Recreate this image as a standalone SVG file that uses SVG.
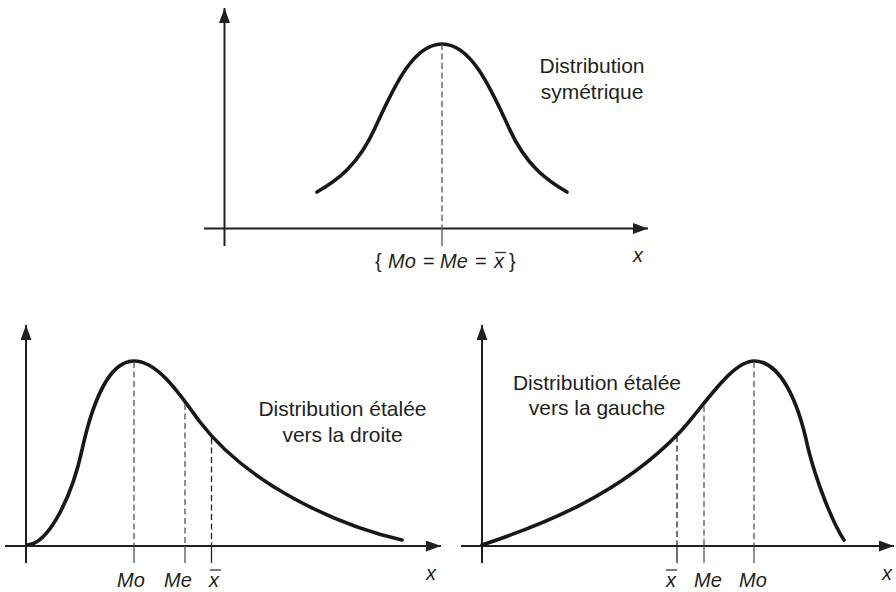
<svg xmlns="http://www.w3.org/2000/svg" width="896" height="592" viewBox="0 0 896 592">
<style>
.ax{stroke:#231f20;stroke-width:2;fill:none}
.cv{stroke:#1a1718;stroke-width:3.6;fill:none;stroke-linecap:round}
.dash{stroke:#555;stroke-width:1.3;stroke-dasharray:6 3.5;fill:none}
.tick{stroke:#555;stroke-width:1.3;fill:none}
.bar{stroke:#333;stroke-width:1.3}
.lbl{font-family:"Liberation Sans",Arial,sans-serif;font-size:21px;fill:#231f20;text-anchor:middle}
.m{font-family:"Liberation Sans",Arial,sans-serif;font-size:20px;fill:#231f20;font-style:italic}
.up{font-style:normal}
</style>
<defs>
<marker id="arr" viewBox="0 0 15 11" refX="15" refY="5.5" markerWidth="15" markerHeight="11" markerUnits="userSpaceOnUse" orient="auto">
<path d="M0,0 L15,5.5 L0,11 Z" fill="#231f20"/>
</marker>
</defs>

<g id="chart-symetrique">
<g id="axes-sym">
<line class="ax" x1="224.5" y1="246" x2="224.5" y2="8" marker-end="url(#arr)"/>
<line class="ax" x1="204" y1="228.5" x2="648" y2="228.5" marker-end="url(#arr)"/>
</g>
<path class="cv" d="M317,192 C337,180.5 358,165.5 375,128 C395,84 414,44 442,44 C470,44 489,84 509,128 C526,165.5 547,180.5 567,192"/>
<line class="dash" x1="442" y1="44" x2="442" y2="228"/>
<line class="tick" x1="442" y1="228" x2="442" y2="246"/>
<text class="lbl" x="592" y="73">Distribution</text>
<text class="lbl" x="592" y="99">symétrique</text>
<text class="m" y="268"><tspan class="up" x="375">{</tspan><tspan x="388">Mo</tspan><tspan class="up" x="423">=</tspan><tspan x="440">Me</tspan><tspan class="up" x="475">=</tspan><tspan x="494">x</tspan><tspan class="up" x="509">}</tspan></text>
<line class="bar" x1="495" y1="252.5" x2="506" y2="252.5"/>
<text class="m" x="633" y="262">x</text>
</g>

<g id="chart-droite">
<g id="axes-droite">
<line class="ax" x1="26" y1="563" x2="26" y2="325" marker-end="url(#arr)"/>
<line class="ax" x1="5" y1="546" x2="441" y2="546" marker-end="url(#arr)"/>
</g>
<path class="cv" d="M27,545 C49,544 72,496 82,450 C93,399.5 110,361 134,361 C159,361 182,398 200,422 C246,482 332,524 402,540"/>
<line class="dash" x1="134" y1="362" x2="134" y2="545"/>
<line class="dash" x1="185" y1="404" x2="185" y2="545"/>
<line class="dash" x1="211.5" y1="438" x2="211.5" y2="545" style="stroke:#222"/>
<line class="tick" x1="134" y1="546" x2="134" y2="563"/>
<line class="tick" x1="185" y1="546" x2="185" y2="563"/>
<line class="tick" x1="211.5" y1="546" x2="211.5" y2="563" style="stroke:#222"/>
<text class="lbl" x="342.5" y="416">Distribution étalée</text>
<text class="lbl" x="342.5" y="442">vers la droite</text>
<text class="m" x="117" y="587">Mo</text>
<text class="m" x="164" y="587">Me</text>
<text class="m" x="209" y="587">x</text>
<line class="bar" x1="210" y1="570" x2="221" y2="570"/>
<text class="m" x="426" y="580">x</text>
</g>

<g id="chart-gauche">
<g id="axes-gauche">
<line class="ax" x1="482" y1="563" x2="482" y2="325" marker-end="url(#arr)"/>
<line class="ax" x1="461" y1="546" x2="894" y2="546" marker-end="url(#arr)"/>
</g>
<path class="cv" d="M482,545 C542,525 620,495 680,432 C705,404.5 732,361 754,361 C780,361 798,400 808,448 C816,480 832,522 844,540"/>
<line class="dash" x1="677" y1="436" x2="677" y2="545" style="stroke:#222"/>
<line class="dash" x1="704" y1="406" x2="704" y2="545"/>
<line class="dash" x1="754" y1="362" x2="754" y2="545"/>
<line class="tick" x1="677" y1="546" x2="677" y2="563" style="stroke:#222"/>
<line class="tick" x1="704" y1="546" x2="704" y2="563"/>
<line class="tick" x1="754" y1="546" x2="754" y2="563"/>
<text class="lbl" x="597" y="390">Distribution étalée</text>
<text class="lbl" x="597" y="415">vers la gauche</text>
<text class="m" x="666" y="587">x</text>
<line class="bar" x1="666" y1="570" x2="677" y2="570"/>
<text class="m" x="694" y="587">Me</text>
<text class="m" x="739" y="587">Mo</text>
<text class="m" x="882" y="580">x</text>
</g>
</svg>
